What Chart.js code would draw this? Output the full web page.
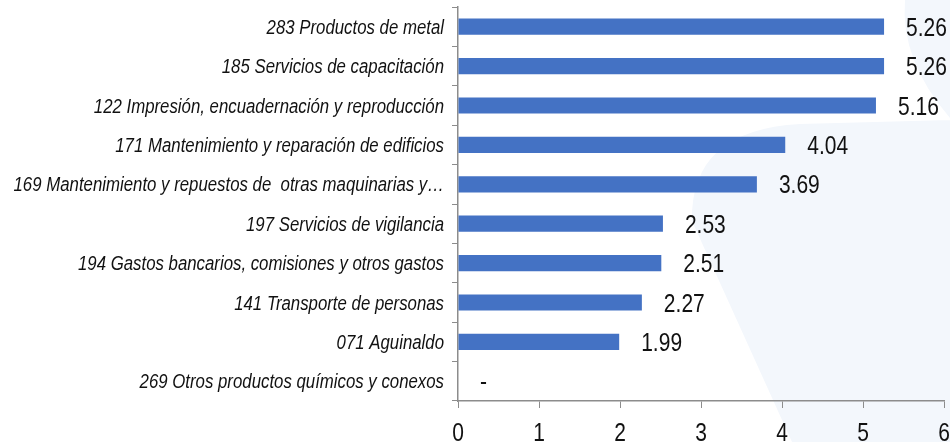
<!DOCTYPE html>
<html>
<head>
<meta charset="utf-8">
<script src="https://cdn.jsdelivr.net/npm/chart.js@4.4.0/dist/chart.umd.min.js"></script>
<style>
html,body{margin:0;padding:0;background:#fff;}
#wrap{position:relative;width:950px;height:442px;}
</style>
</head>
<body>
<div id="wrap"><canvas id="c" width="950" height="442"></canvas></div>
<script>
const categories = [
  "283 Productos de metal",
  "185 Servicios de capacitación",
  "122 Impresión, encuadernación y reproducción",
  "171 Mantenimiento y reparación de edificios",
  "169 Mantenimiento y repuestos de  otras maquinarias y…",
  "197 Servicios de vigilancia",
  "194 Gastos bancarios, comisiones y otros gastos",
  "141 Transporte de personas",
  "071 Aguinaldo",
  "269 Otros productos químicos y conexos"
];
const values = [5.26, 5.26, 5.16, 4.04, 3.69, 2.53, 2.51, 2.27, 1.99, 0];
const valueLabels = ["5.26", "5.26", "5.16", "4.04", "3.69", "2.53", "2.51", "2.27", "1.99", "-"];
const xTicks = [0, 1, 2, 3, 4, 5, 6];

const FONT = "'Liberation Sans', Arial, sans-serif";
const SQUEEZE = 0.84;

function narrowText(ctx, text, x, y, align, font) {
  ctx.save();
  ctx.font = font;
  ctx.textBaseline = 'alphabetic';
  const w = ctx.measureText(text).width * SQUEEZE;
  let left = x;
  if (align === 'right') left = x - w;
  else if (align === 'center') left = x - w / 2;
  ctx.translate(left, y);
  ctx.scale(SQUEEZE, 1);
  ctx.textAlign = 'left';
  ctx.fillText(text, 0, 0);
  ctx.restore();
}

// faint watermark backdrop
const backdrop = {
  id: 'backdrop',
  beforeDraw(chart) {
    const ctx = chart.ctx;
    ctx.save();
    ctx.fillStyle = '#f3f7fc';
    ctx.beginPath();
    ctx.moveTo(905, 0);
    ctx.lineTo(950, 0);
    ctx.lineTo(950, 442);
    ctx.lineTo(792, 442);
    ctx.lineTo(692, 221);
    ctx.quadraticCurveTo(690, 130, 800, 124);
    ctx.lineTo(950, 120);
    ctx.lineTo(950, 118);
    ctx.quadraticCurveTo(900, 60, 905, 0);
    ctx.closePath();
    ctx.fill();
    ctx.restore();
  }
};

const labelPlugin = {
  id: 'narrowLabels',
  afterDraw(chart) {
    const ctx = chart.ctx;
    ctx.save();
    ctx.fillStyle = '#111';
    const yScale = chart.scales.y;
    categories.forEach((c, i) => {
      const yy = yScale.getPixelForValue(i);
      narrowText(ctx, c, 444, yy + 7, 'right', 'italic 20px ' + FONT);
    });
    const xScale = chart.scales.x;
    xTicks.forEach(v => {
      narrowText(ctx, String(v), xScale.getPixelForValue(v), 441, 'center', '25px ' + FONT);
    });
    const meta = chart.getDatasetMeta(0);
    meta.data.forEach((bar, i) => {
      narrowText(ctx, valueLabels[i], bar.x + 22, bar.y + 9, 'left', '25px ' + FONT);
    });
    ctx.restore();
  }
};

new Chart(document.getElementById('c'), {
  type: 'bar',
  data: {
    labels: categories,
    datasets: [{
      data: values,
      backgroundColor: '#4472C4',
      borderWidth: 0,
      barPercentage: 0.41,
      categoryPercentage: 1.0
    }]
  },
  options: {
    indexAxis: 'y',
    responsive: false,
    animation: false,
    devicePixelRatio: 1,
    layout: { padding: { top: 7, right: 6, bottom: 0, left: 0 } },
    plugins: { legend: { display: false }, tooltip: { enabled: false } },
    scales: {
      x: {
        min: 0, max: 6,
        afterBuildTicks(axis) { axis.ticks = xTicks.map(v => ({ value: v })); },
        grid: { display: true, drawOnChartArea: false, drawTicks: true, tickLength: 7, color: '#8c8c8c', lineWidth: 1 },
        border: { display: true, color: '#8c8c8c', width: 1.5 },
        ticks: { display: false },
        afterFit(axis) { axis.height = 41; }
      },
      y: {
        offset: true,
        grid: { display: true, offset: true, drawOnChartArea: false, drawTicks: true, tickLength: 6, color: '#8c8c8c', lineWidth: 1 },
        border: { display: true, color: '#8c8c8c', width: 1.5 },
        ticks: { display: false },
        afterFit(axis) { axis.width = 458; }
      }
    }
  },
  plugins: [backdrop, labelPlugin]
});
</script>
</body>
</html>
